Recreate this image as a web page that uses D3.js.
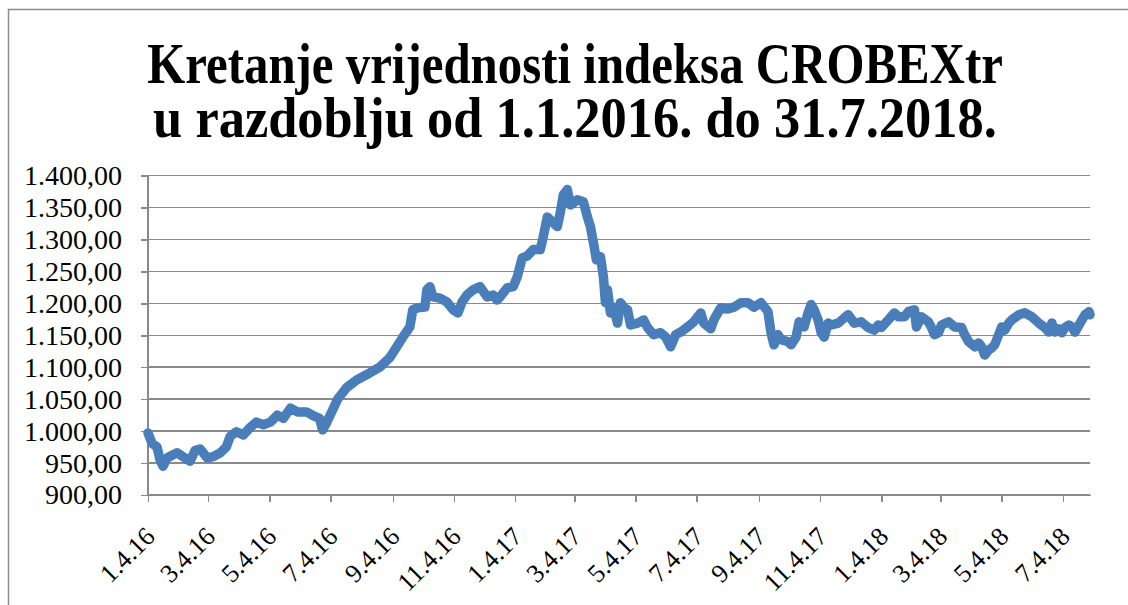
<!DOCTYPE html>
<html>

<head>
  <meta charset="utf-8">
  <!-- Load d3.js -->
  <script src="https://d3js.org/d3.v7.min.js"></script>

  <style>
    body {
      margin: 0;
      background: #ffffff;
    }

    .grid line {
      stroke: #8a8a8a;
      stroke-width: 1.5px;
      shape-rendering: crispEdges;
    }

    .axis path,
    .axis line {
      fill: none;
      stroke: #8a8a8a;
      stroke-width: 1.5px;
      shape-rendering: crispEdges;
    }

    .axis text {
      font-family: "Liberation Serif", serif;
      font-size: 26px;
      fill: #000;
    }

    .axis.y text {
      font-size: 28px;
    }

    .title {
      font-family: "Liberation Serif", serif;
      font-weight: bold;
      font-size: 56px;
      fill: #000;
    }
  </style>
</head>

<body>
  <div id="chart"></div>
  <script>
    // CROBEXtr
    var dates = [
      "2016-01-04", "2016-01-08", "2016-01-13", "2016-01-16", "2016-01-19", "2016-01-23", "2016-01-29",
      "2016-02-02", "2016-02-08", "2016-02-15", "2016-02-20", "2016-02-25", "2016-03-03", "2016-03-09",
      "2016-03-16", "2016-03-22", "2016-03-26", "2016-04-01", "2016-04-08", "2016-04-15", "2016-04-21",
      "2016-04-28", "2016-05-05", "2016-05-12", "2016-05-18", "2016-05-25", "2016-06-01", "2016-06-10",
      "2016-06-17", "2016-06-23", "2016-06-26", "2016-06-30", "2016-07-06", "2016-07-11", "2016-07-20",
      "2016-07-30", "2016-08-12", "2016-08-22", "2016-09-01", "2016-09-08", "2016-09-14", "2016-09-21",
      "2016-09-24", "2016-09-29", "2016-10-06", "2016-10-08", "2016-10-11", "2016-10-14", "2016-10-21",
      "2016-10-28", "2016-11-03", "2016-11-08", "2016-11-12", "2016-11-17", "2016-11-23", "2016-11-30",
      "2016-12-07", "2016-12-13", "2016-12-17", "2016-12-20", "2016-12-27", "2017-01-02", "2017-01-06",
      "2017-01-11", "2017-01-16", "2017-01-22", "2017-01-29", "2017-02-01", "2017-02-05", "2017-02-11",
      "2017-02-15", "2017-02-18", "2017-02-21", "2017-02-25", "2017-02-28", "2017-03-03", "2017-03-07",
      "2017-03-13", "2017-03-17", "2017-03-20", "2017-03-23", "2017-03-26", "2017-03-30", "2017-04-02",
      "2017-04-04", "2017-04-06", "2017-04-09", "2017-04-12", "2017-04-16", "2017-04-19", "2017-04-22",
      "2017-04-26", "2017-04-29", "2017-05-06", "2017-05-12", "2017-05-16", "2017-05-22", "2017-05-29",
      "2017-06-03", "2017-06-08", "2017-06-13", "2017-06-18", "2017-06-25", "2017-07-01", "2017-07-08",
      "2017-07-11", "2017-07-18", "2017-07-21", "2017-07-25", "2017-07-28", "2017-08-04", "2017-08-10",
      "2017-08-17", "2017-08-24", "2017-08-30", "2017-09-06", "2017-09-13", "2017-09-16", "2017-09-19",
      "2017-09-23", "2017-09-26", "2017-10-03", "2017-10-06", "2017-10-11", "2017-10-14", "2017-10-19",
      "2017-10-23", "2017-10-26", "2017-10-29", "2017-11-02", "2017-11-05", "2017-11-08", "2017-11-12",
      "2017-11-15", "2017-11-22", "2017-11-28", "2017-12-02", "2017-12-08", "2017-12-15", "2017-12-22",
      "2017-12-28", "2018-01-01", "2018-01-04", "2018-01-11", "2018-01-17", "2018-01-21", "2018-01-27",
      "2018-01-31", "2018-02-06", "2018-02-08", "2018-02-13", "2018-02-20", "2018-02-23", "2018-02-26",
      "2018-03-02", "2018-03-05", "2018-03-12", "2018-03-18", "2018-03-25", "2018-03-28", "2018-04-01",
      "2018-04-07", "2018-04-11", "2018-04-14", "2018-04-17", "2018-04-21", "2018-04-24", "2018-04-27",
      "2018-05-01", "2018-05-04", "2018-05-07", "2018-05-11", "2018-05-14", "2018-05-21", "2018-05-27",
      "2018-06-03", "2018-06-10", "2018-06-16", "2018-06-20", "2018-06-23", "2018-06-26", "2018-06-30",
      "2018-07-03", "2018-07-06", "2018-07-10", "2018-07-13", "2018-07-16", "2018-07-20", "2018-07-23",
      "2018-07-26", "2018-07-30", "2018-07-31"
    ];

    var values = [
      997, 981, 975, 955, 945, 958, 963,
      966, 960, 953, 970, 972, 958, 960,
      966, 975, 992, 999, 994, 1006, 1014,
      1010, 1014, 1025, 1020, 1036, 1030, 1030,
      1024, 1020, 1002, 1013, 1033, 1050, 1068,
      1080, 1091, 1100, 1115, 1132, 1147, 1163,
      1190, 1193, 1194, 1221, 1226, 1210, 1208,
      1202, 1190, 1185, 1202, 1213, 1221, 1226,
      1210, 1213, 1205, 1210, 1224, 1226, 1241,
      1271, 1274, 1284, 1284, 1304, 1335, 1326,
      1320, 1342, 1370, 1378, 1354, 1357, 1362,
      1359, 1335, 1320, 1295, 1268, 1273, 1241,
      1201, 1221, 1185, 1194, 1169, 1201, 1194,
      1190, 1166, 1169, 1174, 1162, 1151, 1154,
      1147, 1132, 1151, 1155, 1163, 1171, 1185,
      1169, 1160, 1174, 1185, 1193, 1191, 1194,
      1201, 1201, 1194, 1201, 1187, 1154, 1135,
      1151, 1143, 1140, 1135, 1147, 1171, 1163,
      1185, 1198, 1190, 1174, 1154, 1147, 1169,
      1166, 1169, 1177, 1182, 1169, 1171, 1162,
      1158, 1166, 1162, 1174, 1185, 1179, 1179,
      1187, 1190, 1163, 1179, 1171, 1162, 1151,
      1154, 1166, 1171, 1163, 1162, 1151, 1140,
      1132, 1138, 1132, 1119, 1127, 1130, 1135,
      1151, 1163, 1158, 1169, 1174, 1182, 1185,
      1179, 1169, 1162, 1155, 1169, 1155, 1160,
      1154, 1162, 1166, 1163, 1155, 1166, 1174,
      1182, 1187, 1182
    ];

    var yTicks = [900, 950, 1000, 1050, 1100, 1150, 1200, 1250, 1300, 1350, 1400];
    var tickDates = [
      "2016-01-04", "2016-03-04", "2016-05-04", "2016-07-04", "2016-09-04", "2016-11-04",
      "2017-01-04", "2017-03-04", "2017-05-04", "2017-07-04", "2017-09-04", "2017-11-04",
      "2018-01-04", "2018-03-04", "2018-05-04", "2018-07-04"
    ];
    var tickLabels = [
      "1.4.16", "3.4.16", "5.4.16", "7.4.16", "9.4.16", "11.4.16",
      "1.4.17", "3.4.17", "5.4.17", "7.4.17", "9.4.17", "11.4.17",
      "1.4.18", "3.4.18", "5.4.18", "7.4.18"
    ];
    var titleLines = [
      "Kretanje vrijednosti indeksa CROBEXtr",
      "u razdoblju od 1.1.2016. do 31.7.2018."
    ];

    var W = 1128,
      H = 605;
    var margin = {
        top: 175.5,
        right: 38,
        bottom: 110,
        left: 148
      },
      width = W - margin.left - margin.right,
      height = H - margin.top - margin.bottom;

    var parse = d3.utcParse("%Y-%m-%d");
    var hr = d3.formatLocale({
      decimal: ",",
      thousands: ".",
      grouping: [3],
      currency: ["", " kn"]
    });
    var fmt = hr.format(",.2f");

    var data = dates.map(function(d, i) {
      return {
        date: parse(d),
        value: values[i]
      };
    });

    var svg = d3.select("#chart")
      .append("svg")
      .attr("width", W)
      .attr("height", H);

    // outer frame (only top and left are visible)
    svg.append("path")
      .attr("d", "M8.5," + H + "V9.5H" + W)
      .style("fill", "none")
      .style("stroke", "#8c8c8c")
      .style("stroke-width", 1.5);

    // title, the original font is narrower than Times so squeeze each line
    var titleWidths = [856, 844];
    svg.selectAll(".title")
      .data(titleLines)
      .enter()
      .append("text")
      .attr("class", "title")
      .attr("text-anchor", "middle")
      .text(function(d) {
        return d;
      })
      .attr("transform", function(d, i) {
        var k = titleWidths[i] / this.getComputedTextLength();
        return "translate(575," + (83 + i * 54) + ") scale(" + k + ",1)";
      });

    var g = svg.append("g")
      .attr("transform", "translate(" + margin.left + "," + margin.top + ")");

    var x = d3.scaleUtc()
      .domain([parse("2016-01-04"), parse("2018-07-31")])
      .range([0, width]);
    var y = d3.scaleLinear()
      .domain([900, 1400])
      .range([height, 0]);

    // horizontal gridlines
    g.append("g")
      .attr("class", "grid")
      .selectAll("line")
      .data(yTicks)
      .enter()
      .append("line")
      .attr("x1", 0)
      .attr("x2", width)
      .attr("y1", function(d) { return y(d); })
      .attr("y2", function(d) { return y(d); });

    // y axis
    var yAxis = g.append("g")
      .attr("class", "axis y")
      .call(d3.axisLeft(y).tickValues(yTicks).tickFormat(fmt).tickSize(7).tickPadding(19));
    yAxis.select(".domain").attr("d", "M0," + height + "V0");

    // x axis
    var xAxis = g.append("g")
      .attr("class", "axis x")
      .attr("transform", "translate(0," + height + ")")
      .call(d3.axisBottom(x)
        .tickValues(tickDates.map(parse))
        .tickFormat(function(d, i) { return tickLabels[i]; })
        .tickSize(7)
        .tickSizeOuter(0));

    xAxis.selectAll("text")
      .attr("text-anchor", "end")
      .attr("y", 0)
      .attr("dy", 0)
      .attr("transform", "translate(8,43) rotate(-45)");

    // the index line
    var line = d3.line()
      .x(function(d) { return x(d.date); })
      .y(function(d) { return y(d.value); })
      .curve(d3.curveLinear);

    g.append("path")
      .datum(data)
      .attr("class", "data-line")
      .style("fill", "none")
      .style("stroke", "#4a7ebb")
      .style("stroke-width", 9.5)
      .style("stroke-linejoin", "round")
      .style("stroke-linecap", "round")
      .attr("d", line);
  </script>
</body>

</html>
